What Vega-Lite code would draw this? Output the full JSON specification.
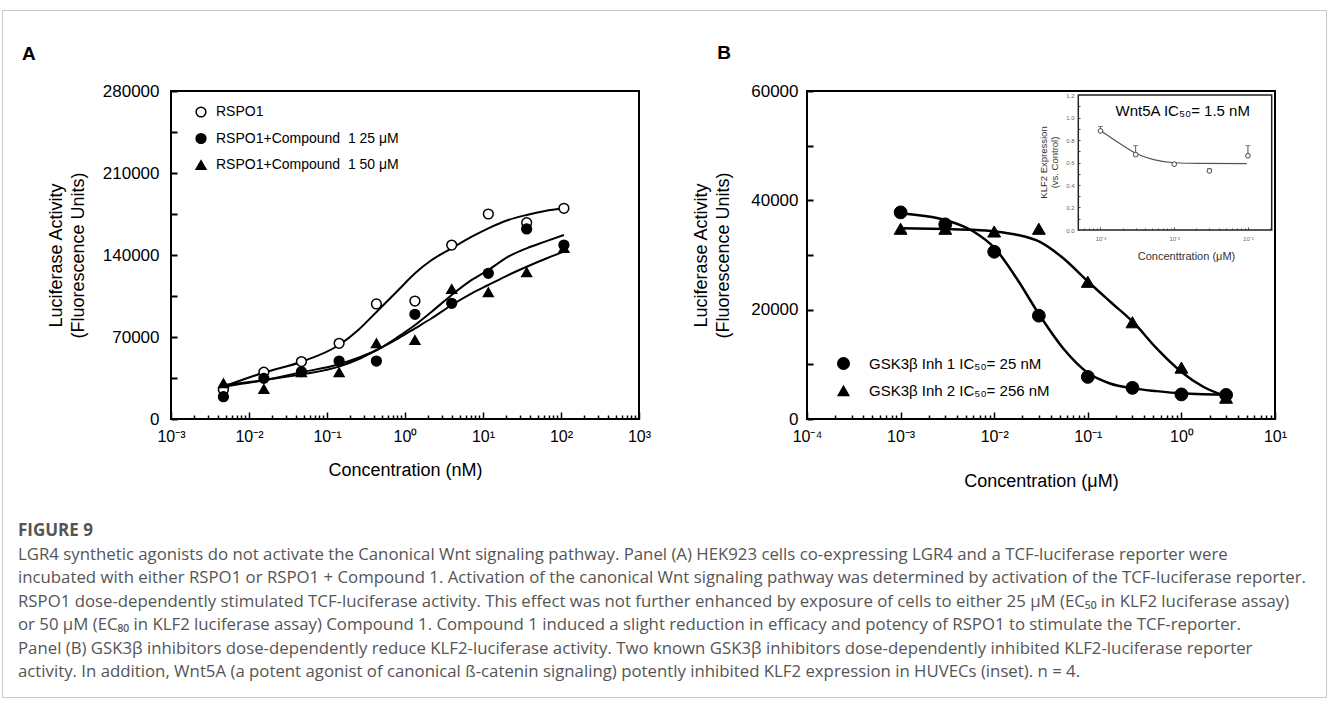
{
  "$schema": "https://vega.github.io/schema/vega-lite/v6.json",
  "width": 1324,
  "height": 687,
  "autosize": {"type": "none"},
  "padding": {"left": 2, "top": 10, "right": 2, "bottom": 5},
  "background": "white",
  "config": {
    "view": {"stroke": "#c8c8c8", "strokeWidth": 1},
    "font": "Liberation Sans",
    "axis": {"labelFont": "Liberation Sans", "titleFont": "Liberation Sans", "labelColor": "black", "titleColor": "black", "tickColor": "black", "tickOpacity": 1, "titleFontWeight": "normal", "grid": false, "domain": false, "labelOverlap": false, "labelFlush": false, "zindex": 1}
  },
  "title": {
    "text": "FIGURE 9",
    "subtitle": [
      "LGR4 synthetic agonists do not activate the Canonical Wnt signaling pathway. Panel (A) HEK923 cells co-expressing LGR4 and a TCF-luciferase reporter were",
      "incubated with either RSPO1 or RSPO1 + Compound 1. Activation of the canonical Wnt signaling pathway was determined by activation of the TCF-luciferase reporter.",
      "RSPO1 dose-dependently stimulated TCF-luciferase activity. This effect was not further enhanced by exposure of cells to either 25 μM (EC₅₀ in KLF2 luciferase assay)",
      "or 50 μM (EC₈₀ in KLF2 luciferase assay) Compound 1. Compound 1 induced a slight reduction in efficacy and potency of RSPO1 to stimulate the TCF-reporter.",
      "Panel (B) GSK3β inhibitors dose-dependently reduce KLF2-luciferase activity. Two known GSK3β inhibitors dose-dependently inhibited KLF2-luciferase reporter",
      "activity. In addition, Wnt5A (a potent agonist of canonical ß-catenin signaling) potently inhibited KLF2 expression in HUVECs (inset). n = 4."
    ],
    "orient": "bottom",
    "anchor": "start",
    "frame": "group",
    "align": "left",
    "offset": -174,
    "dx": 16,
    "font": "Open Sans",
    "fontSize": 17,
    "fontWeight": "bold",
    "color": "#555555",
    "subtitleFont": "Open Sans",
    "subtitleFontSize": 16.8,
    "subtitleColor": "#555555",
    "subtitleLineHeight": 23.4,
    "subtitlePadding": 7
  },
  "datasets": {
    "aPts": [
      {"series": "RSPO1", "conc": 0.0047, "value": 25000},
      {"series": "RSPO1", "conc": 0.0155, "value": 40000},
      {"series": "RSPO1", "conc": 0.047, "value": 49000},
      {"series": "RSPO1", "conc": 0.143, "value": 64600},
      {"series": "RSPO1", "conc": 0.43, "value": 98200},
      {"series": "RSPO1", "conc": 1.34, "value": 100700},
      {"series": "RSPO1", "conc": 3.97, "value": 148500},
      {"series": "RSPO1", "conc": 11.7, "value": 175000},
      {"series": "RSPO1", "conc": 36.3, "value": 167600},
      {"series": "RSPO1", "conc": 109, "value": 179900},
      {"series": "RSPO1+Compound\u00a0 1 50 μM", "conc": 0.0047, "value": 30500},
      {"series": "RSPO1+Compound\u00a0 1 50 μM", "conc": 0.0155, "value": 25600},
      {"series": "RSPO1+Compound\u00a0 1 50 μM", "conc": 0.047, "value": 39900},
      {"series": "RSPO1+Compound\u00a0 1 50 μM", "conc": 0.143, "value": 39900},
      {"series": "RSPO1+Compound\u00a0 1 50 μM", "conc": 0.43, "value": 64600},
      {"series": "RSPO1+Compound\u00a0 1 50 μM", "conc": 1.34, "value": 67400},
      {"series": "RSPO1+Compound\u00a0 1 50 μM", "conc": 3.97, "value": 111000},
      {"series": "RSPO1+Compound\u00a0 1 50 μM", "conc": 11.7, "value": 108200},
      {"series": "RSPO1+Compound\u00a0 1 50 μM", "conc": 36.3, "value": 125200},
      {"series": "RSPO1+Compound\u00a0 1 50 μM", "conc": 109, "value": 146000},
      {"series": "RSPO1+Compound\u00a0 1 25 μM", "conc": 0.0047, "value": 19000},
      {"series": "RSPO1+Compound\u00a0 1 25 μM", "conc": 0.0155, "value": 34700},
      {"series": "RSPO1+Compound\u00a0 1 25 μM", "conc": 0.047, "value": 40400},
      {"series": "RSPO1+Compound\u00a0 1 25 μM", "conc": 0.143, "value": 49500},
      {"series": "RSPO1+Compound\u00a0 1 25 μM", "conc": 0.43, "value": 49500},
      {"series": "RSPO1+Compound\u00a0 1 25 μM", "conc": 1.34, "value": 89400},
      {"series": "RSPO1+Compound\u00a0 1 25 μM", "conc": 3.97, "value": 98800},
      {"series": "RSPO1+Compound\u00a0 1 25 μM", "conc": 11.7, "value": 124400},
      {"series": "RSPO1+Compound\u00a0 1 25 μM", "conc": 36.3, "value": 162200},
      {"series": "RSPO1+Compound\u00a0 1 25 μM", "conc": 109, "value": 148500}
    ],
    "aFit": [
      {"series": "RSPO1", "conc": 0.00469, "value": 27600},
      {"series": "RSPO1", "conc": 0.016, "value": 39900},
      {"series": "RSPO1", "conc": 0.0473, "value": 48900},
      {"series": "RSPO1", "conc": 0.1425, "value": 63200},
      {"series": "RSPO1", "conc": 0.252, "value": 76000},
      {"series": "RSPO1", "conc": 0.434, "value": 91600},
      {"series": "RSPO1", "conc": 0.822, "value": 110100},
      {"series": "RSPO1", "conc": 1.344, "value": 124400},
      {"series": "RSPO1", "conc": 2.198, "value": 135700},
      {"series": "RSPO1", "conc": 3.97, "value": 145700},
      {"series": "RSPO1", "conc": 7.17, "value": 155600},
      {"series": "RSPO1", "conc": 11.7, "value": 162800},
      {"series": "RSPO1", "conc": 21.1, "value": 169900},
      {"series": "RSPO1", "conc": 36.3, "value": 174200},
      {"series": "RSPO1", "conc": 62.4, "value": 177600},
      {"series": "RSPO1", "conc": 109, "value": 179900},
      {"series": "C25", "conc": 0.00469, "value": 27600},
      {"series": "C25", "conc": 0.016, "value": 33300},
      {"series": "C25", "conc": 0.0473, "value": 39900},
      {"series": "C25", "conc": 0.1425, "value": 46700},
      {"series": "C25", "conc": 0.252, "value": 52300},
      {"series": "C25", "conc": 0.434, "value": 58900},
      {"series": "C25", "conc": 0.822, "value": 70300},
      {"series": "C25", "conc": 1.344, "value": 80200},
      {"series": "C25", "conc": 2.198, "value": 91600},
      {"series": "C25", "conc": 3.97, "value": 105900},
      {"series": "C25", "conc": 7.17, "value": 118700},
      {"series": "C25", "conc": 11.7, "value": 127200},
      {"series": "C25", "conc": 21.1, "value": 138600},
      {"series": "C25", "conc": 36.3, "value": 145700},
      {"series": "C25", "conc": 62.4, "value": 151400},
      {"series": "C25", "conc": 109, "value": 157100},
      {"series": "C50", "conc": 0.00469, "value": 29000},
      {"series": "C50", "conc": 0.016, "value": 33300},
      {"series": "C50", "conc": 0.0473, "value": 38100},
      {"series": "C50", "conc": 0.1425, "value": 44700},
      {"series": "C50", "conc": 0.252, "value": 51000},
      {"series": "C50", "conc": 0.434, "value": 58900},
      {"series": "C50", "conc": 0.822, "value": 68900},
      {"series": "C50", "conc": 1.344, "value": 77400},
      {"series": "C50", "conc": 2.198, "value": 86000},
      {"series": "C50", "conc": 3.97, "value": 97300},
      {"series": "C50", "conc": 7.17, "value": 107300},
      {"series": "C50", "conc": 11.7, "value": 114400},
      {"series": "C50", "conc": 21.1, "value": 122900},
      {"series": "C50", "conc": 36.3, "value": 130000},
      {"series": "C50", "conc": 62.4, "value": 136600},
      {"series": "C50", "conc": 109, "value": 142900}
    ],
    "bPts": [
      {"series": "GSK3β Inh 1 IC₅₀= 25 nM", "conc": 0.001, "value": 37800},
      {"series": "GSK3β Inh 1 IC₅₀= 25 nM", "conc": 0.003, "value": 35600},
      {"series": "GSK3β Inh 1 IC₅₀= 25 nM", "conc": 0.01, "value": 30600},
      {"series": "GSK3β Inh 1 IC₅₀= 25 nM", "conc": 0.03, "value": 18900},
      {"series": "GSK3β Inh 1 IC₅₀= 25 nM", "conc": 0.1, "value": 7700},
      {"series": "GSK3β Inh 1 IC₅₀= 25 nM", "conc": 0.3, "value": 5700},
      {"series": "GSK3β Inh 1 IC₅₀= 25 nM", "conc": 1, "value": 4500},
      {"series": "GSK3β Inh 1 IC₅₀= 25 nM", "conc": 3, "value": 4400},
      {"series": "GSK3β Inh 2 IC₅₀= 256 nM", "conc": 0.001, "value": 34800},
      {"series": "GSK3β Inh 2 IC₅₀= 256 nM", "conc": 0.003, "value": 34800},
      {"series": "GSK3β Inh 2 IC₅₀= 256 nM", "conc": 0.01, "value": 34300},
      {"series": "GSK3β Inh 2 IC₅₀= 256 nM", "conc": 0.03, "value": 34800},
      {"series": "GSK3β Inh 2 IC₅₀= 256 nM", "conc": 0.1, "value": 25100},
      {"series": "GSK3β Inh 2 IC₅₀= 256 nM", "conc": 0.3, "value": 17700},
      {"series": "GSK3β Inh 2 IC₅₀= 256 nM", "conc": 1, "value": 9400},
      {"series": "GSK3β Inh 2 IC₅₀= 256 nM", "conc": 3, "value": 3900}
    ],
    "bFit": [
      {"series": "Inh1", "conc": 0.001, "value": 37600},
      {"series": "Inh1", "conc": 0.003, "value": 36400},
      {"series": "Inh1", "conc": 0.006, "value": 34300},
      {"series": "Inh1", "conc": 0.0102, "value": 31200},
      {"series": "Inh1", "conc": 0.0174, "value": 25700},
      {"series": "Inh1", "conc": 0.0308, "value": 18900},
      {"series": "Inh1", "conc": 0.0547, "value": 12900},
      {"series": "Inh1", "conc": 0.101, "value": 8400},
      {"series": "Inh1", "conc": 0.1725, "value": 6500},
      {"series": "Inh1", "conc": 0.306, "value": 5600},
      {"series": "Inh1", "conc": 0.544, "value": 5100},
      {"series": "Inh1", "conc": 0.992, "value": 4700},
      {"series": "Inh1", "conc": 1.71, "value": 4550},
      {"series": "Inh1", "conc": 3.05, "value": 4500},
      {"series": "Inh2", "conc": 0.001, "value": 34900},
      {"series": "Inh2", "conc": 0.003, "value": 34750},
      {"series": "Inh2", "conc": 0.006, "value": 34600},
      {"series": "Inh2", "conc": 0.0102, "value": 34300},
      {"series": "Inh2", "conc": 0.0174, "value": 33700},
      {"series": "Inh2", "conc": 0.0308, "value": 32400},
      {"series": "Inh2", "conc": 0.0547, "value": 29400},
      {"series": "Inh2", "conc": 0.101, "value": 25100},
      {"series": "Inh2", "conc": 0.1725, "value": 21500},
      {"series": "Inh2", "conc": 0.306, "value": 17700},
      {"series": "Inh2", "conc": 0.544, "value": 12900},
      {"series": "Inh2", "conc": 0.992, "value": 8650},
      {"series": "Inh2", "conc": 1.71, "value": 5900},
      {"series": "Inh2", "conc": 3.05, "value": 4100}
    ],
    "insetPts": [
      {"conc": 0.001, "value": 0.88, "upper": 0.92},
      {"conc": 0.003, "value": 0.67, "upper": 0.75},
      {"conc": 0.01, "value": 0.585, "upper": null},
      {"conc": 0.03, "value": 0.525, "upper": 0.545},
      {"conc": 0.1, "value": 0.66, "upper": 0.75}
    ],
    "insetFit": [
      {"conc": 0.001, "value": 0.885},
      {"conc": 0.00168, "value": 0.785},
      {"conc": 0.00304, "value": 0.68},
      {"conc": 0.00526, "value": 0.625},
      {"conc": 0.0101, "value": 0.598},
      {"conc": 0.0224, "value": 0.592},
      {"conc": 0.096, "value": 0.59}
    ]
  },
  "resolve": {
    "scale": {"x": "independent", "y": "independent", "shape": "independent", "fill": "independent", "stroke": "independent"},
    "axis": {"x": "independent", "y": "independent"},
    "legend": {"shape": "independent", "fill": "independent", "stroke": "independent"}
  },
  "layer": [
    {
      "layer": [
        {
          "data": {"name": "aFit"},
          "mark": {"type": "line", "color": "black", "strokeWidth": 2, "interpolate": "monotone"},
          "encoding": {
            "x": {
              "field": "conc", "type": "quantitative",
              "scale": {"type": "log", "domain": [0.001, 1000], "range": [169, 637], "nice": false},
              "axis": {
                "orient": "bottom", "offset": -278,
                "values": [0.001,0.002,0.003,0.004,0.005,0.006,0.007,0.008,0.009,0.01,0.02,0.03,0.04,0.05,0.06,0.07,0.08,0.09,0.1,0.2,0.3,0.4,0.5,0.6,0.7,0.8,0.9,1,2,3,4,5,6,7,8,9,10,20,30,40,50,60,70,80,90,100,200,300,400,500,600,700,800,900,1000],
                "labelExpr": "abs(log(datum.value)/LN10 - round(log(datum.value)/LN10)) < 0.001 ? '10' + (round(log(datum.value)/LN10) < 0 ? '⁻' : '') + ['⁰','¹','²','³','⁴'][abs(round(log(datum.value)/LN10))] : ''",
                "tickSize": {"condition": {"test": "abs(log(datum.value)/LN10 - round(log(datum.value)/LN10)) < 0.001", "value": -7}, "value": -4},
                "tickWidth": 1.5,
                "labelFontSize": 16, "labelBaseline": "top", "labelPadding": 16,
                "title": "Concentration (nM)", "titleFontSize": 18, "titleY": 51, "titleBaseline": "middle"
              }
            },
            "y": {
              "field": "value", "type": "quantitative",
              "scale": {"domain": [0, 280000], "range": [409, 81], "nice": false},
              "axis": {
                "orient": "left", "offset": -169,
                "values": [0,35000,70000,105000,140000,175000,210000,245000,280000],
                "labelExpr": "datum.value % 70000 == 0 ? '' + datum.value : ''",
                "tickSize": -6, "tickWidth": 2,
                "labelFontSize": 17, "labelPadding": 18, "labelBaseline": "middle",
                "title": ["Luciferase Activity", "(Fluorescence Units)"],
                "titleFontSize": 18, "titleLineHeight": 22, "titleX": -115, "titleY": 245, "titleBaseline": "middle", "titleAngle": -90
              }
            },
            "detail": {"field": "series"}
          }
        },
        {
          "data": {"values": [{"label": "A"}]},
          "mark": {"type": "rect", "fill": null, "filled": false, "stroke": "black", "strokeWidth": 2},
          "encoding": {
            "x": {"datum": 0.001, "type": "quantitative"},
            "x2": {"datum": 1000},
            "y": {"datum": 0, "type": "quantitative"},
            "y2": {"datum": 280000}
          }
        },
        {
          "data": {"name": "aPts"},
          "mark": {"type": "point", "filled": true, "strokeWidth": 1.5, "size": 95, "opacity": 1},
          "encoding": {
            "x": {"field": "conc", "type": "quantitative"},
            "y": {"field": "value", "type": "quantitative"},
            "shape": {
              "field": "series", "type": "nominal",
              "scale": {"domain": ["RSPO1", "RSPO1+Compound\u00a0 1 25 μM", "RSPO1+Compound\u00a0 1 50 μM"], "range": ["circle", "circle", "triangle-up"]},
              "legend": {"orient": "none", "legendX": 192, "legendY": 95, "title": null, "symbolSize": 95, "symbolStrokeWidth": 1.5, "labelFont": "Liberation Sans", "labelFontSize": 14, "labelColor": "black", "labelLimit": 0, "labelOffset": 8, "rowPadding": 10.5, "padding": 0}
            },
            "fill": {
              "field": "series", "type": "nominal",
              "scale": {"domain": ["RSPO1", "RSPO1+Compound\u00a0 1 25 μM", "RSPO1+Compound\u00a0 1 50 μM"], "range": ["white", "black", "black"]},
              "legend": {"orient": "none", "legendX": 192, "legendY": 95, "title": null, "symbolSize": 95, "symbolStrokeWidth": 1.5, "labelFont": "Liberation Sans", "labelFontSize": 14, "labelColor": "black", "labelLimit": 0, "labelOffset": 8, "rowPadding": 10.5, "padding": 0}
            },
            "stroke": {
              "field": "series", "type": "nominal",
              "scale": {"domain": ["RSPO1", "RSPO1+Compound\u00a0 1 25 μM", "RSPO1+Compound\u00a0 1 50 μM"], "range": ["black", "black", "black"]},
              "legend": {"orient": "none", "legendX": 192, "legendY": 95, "title": null, "symbolSize": 95, "symbolStrokeWidth": 1.5, "labelFont": "Liberation Sans", "labelFontSize": 14, "labelColor": "black", "labelLimit": 0, "labelOffset": 8, "rowPadding": 10.5, "padding": 0}
            }
          }
        },
        {
          "data": {"values": [{"label": "A"}]},
          "mark": {"type": "text", "font": "Liberation Sans", "fontSize": 19, "fontWeight": "bold", "align": "center", "baseline": "middle", "color": "black"},
          "encoding": {
            "x": {"datum": 0.0000151, "type": "quantitative"},
            "y": {"datum": 312000, "type": "quantitative"},
            "text": {"field": "label"}
          }
        }
      ]
    },
    {
      "layer": [
        {
          "data": {"name": "bFit"},
          "mark": {"type": "line", "color": "black", "strokeWidth": 2.5, "interpolate": "monotone"},
          "encoding": {
            "x": {
              "field": "conc", "type": "quantitative",
              "scale": {"type": "log", "domain": [0.0001, 10], "range": [805, 1273], "nice": false},
              "axis": {
                "orient": "bottom", "offset": -278,
                "values": [0.0001,0.0002,0.0003,0.0004,0.0005,0.0006,0.0007,0.0008,0.0009,0.001,0.002,0.003,0.004,0.005,0.006,0.007,0.008,0.009,0.01,0.02,0.03,0.04,0.05,0.06,0.07,0.08,0.09,0.1,0.2,0.3,0.4,0.5,0.6,0.7,0.8,0.9,1,2,3,4,5,6,7,8,9,10],
                "labelExpr": "abs(log(datum.value)/LN10 - round(log(datum.value)/LN10)) < 0.001 ? '10' + (round(log(datum.value)/LN10) < 0 ? '⁻' : '') + ['⁰','¹','²','³','⁴'][abs(round(log(datum.value)/LN10))] : ''",
                "tickSize": {"condition": {"test": "abs(log(datum.value)/LN10 - round(log(datum.value)/LN10)) < 0.001", "value": -7}, "value": -4},
                "tickWidth": 1.5,
                "labelFontSize": 16, "labelBaseline": "top", "labelPadding": 16,
                "title": "Concentration (μM)", "titleFontSize": 18, "titleY": 62, "titleBaseline": "middle"
              }
            },
            "y": {
              "field": "value", "type": "quantitative",
              "scale": {"domain": [0, 60000], "range": [409, 81], "nice": false},
              "axis": {
                "orient": "left", "offset": -805,
                "values": [0,10000,20000,30000,40000,50000,60000],
                "labelExpr": "datum.value % 20000 == 0 ? '' + datum.value : ''",
                "tickSize": -6, "tickWidth": 2,
                "labelFontSize": 17, "labelPadding": 15, "labelBaseline": "middle",
                "title": ["Luciferase Activity", "(Fluorescence Units)"],
                "titleFontSize": 18, "titleLineHeight": 22, "titleX": -106, "titleY": 245, "titleBaseline": "middle", "titleAngle": -90
              }
            },
            "detail": {"field": "series"}
          }
        },
        {
          "data": {"values": [{"label": "B"}]},
          "mark": {"type": "rect", "fill": null, "filled": false, "stroke": "black", "strokeWidth": 2},
          "encoding": {
            "x": {"datum": 0.0001, "type": "quantitative"},
            "x2": {"datum": 10},
            "y": {"datum": 0, "type": "quantitative"},
            "y2": {"datum": 60000}
          }
        },
        {
          "data": {"name": "bPts"},
          "mark": {"type": "point", "filled": true, "color": "black", "stroke": "black", "strokeWidth": 1, "size": 165, "opacity": 1},
          "encoding": {
            "x": {"field": "conc", "type": "quantitative"},
            "y": {"field": "value", "type": "quantitative"},
            "shape": {
              "field": "series", "type": "nominal",
              "scale": {"domain": ["GSK3β Inh 1 IC₅₀= 25 nM", "GSK3β Inh 2 IC₅₀= 256 nM"], "range": ["circle", "triangle-up"]},
              "legend": {"orient": "none", "legendX": 834, "legendY": 346, "title": null, "symbolSize": 170, "symbolFillColor": "black", "symbolStrokeColor": "black", "symbolStrokeWidth": 1, "labelFont": "Liberation Sans", "labelFontSize": 15, "labelColor": "black", "labelLimit": 0, "labelOffset": 18, "rowPadding": 9, "padding": 0}
            }
          }
        },
        {
          "data": {"values": [{"label": "B"}]},
          "mark": {"type": "text", "font": "Liberation Sans", "fontSize": 19, "fontWeight": "bold", "align": "center", "baseline": "middle", "color": "black"},
          "encoding": {
            "x": {"datum": 0.000013, "type": "quantitative"},
            "y": {"datum": 66950, "type": "quantitative"},
            "text": {"field": "label"}
          }
        }
      ]
    },
    {
      "layer": [
        {
          "data": {"name": "insetFit"},
          "mark": {"type": "line", "color": "#555555", "strokeWidth": 1.2, "interpolate": "monotone"},
          "encoding": {
            "x": {
              "field": "conc", "type": "quantitative",
              "scale": {"type": "log", "domain": [0.0005, 0.21], "range": [1076.3, 1269.7], "nice": false},
              "axis": {
                "orient": "bottom", "offset": -467, "zindex": 2,
                "values": [0.0006,0.0007,0.0008,0.0009,0.001,0.002,0.003,0.004,0.005,0.006,0.007,0.008,0.009,0.01,0.02,0.03,0.04,0.05,0.06,0.07,0.08,0.09,0.1,0.2],
                "labelExpr": "abs(log(datum.value)/LN10 - round(log(datum.value)/LN10)) < 0.001 ? '10' + (round(log(datum.value)/LN10) < 0 ? '⁻' : '') + ['⁰','¹','²','³','⁴'][abs(round(log(datum.value)/LN10))] : ''",
                "tickSize": {"condition": {"test": "abs(log(datum.value)/LN10 - round(log(datum.value)/LN10)) < 0.001", "value": -3}, "value": -2},
                "tickWidth": 1, "tickColor": "#444444",
                "labelFontSize": 6, "labelColor": "#666666", "labelBaseline": "top", "labelPadding": 8,
                "title": "Concenttration (μM)", "titleFontSize": 11, "titleColor": "#333333", "titleY": 26, "titleX": 1184, "titleBaseline": "middle"
              }
            },
            "y": {
              "field": "value", "type": "quantitative",
              "scale": {"domain": [0, 1.2], "range": [220, 85], "nice": false},
              "axis": {
                "orient": "left", "offset": -1076, "zindex": 2,
                "values": [0,0.1,0.2,0.3,0.4,0.5,0.6,0.7,0.8,0.9,1,1.1,1.2],
                "labelExpr": "abs(datum.value*5 - round(datum.value*5)) < 0.001 ? format(datum.value, '.1f') : ''",
                "tickSize": -2, "tickWidth": 1, "tickColor": "#444444",
                "labelFontSize": 6, "labelColor": "#666666", "labelPadding": 6, "labelBaseline": "middle",
                "title": ["KLF2 Expression", "(vs. Control)"],
                "titleFontSize": 9.5, "titleColor": "#333333", "titleLineHeight": 11, "titleX": -35, "titleY": 152, "titleBaseline": "middle", "titleAngle": -90
              }
            }
          }
        },
        {
          "data": {"values": [{"label": "inset"}]},
          "mark": {"type": "rect", "fill": null, "filled": false, "stroke": "#222222", "strokeWidth": 1.5},
          "encoding": {
            "x": {"datum": 0.0005, "type": "quantitative"},
            "x2": {"datum": 0.21},
            "y": {"datum": 0, "type": "quantitative"},
            "y2": {"datum": 1.2}
          }
        },
        {
          "data": {"name": "insetPts"},
          "transform": [{"filter": "datum.upper != null"}],
          "mark": {"type": "rule", "color": "#555555", "strokeWidth": 1},
          "encoding": {
            "x": {"field": "conc", "type": "quantitative"},
            "y": {"field": "value", "type": "quantitative"},
            "y2": {"field": "upper"}
          }
        },
        {
          "data": {"name": "insetPts"},
          "transform": [{"filter": "datum.upper != null"}],
          "mark": {"type": "point", "shape": "stroke", "size": 25, "color": "#555555", "strokeWidth": 1},
          "encoding": {
            "x": {"field": "conc", "type": "quantitative"},
            "y": {"field": "upper", "type": "quantitative"}
          }
        },
        {
          "data": {"name": "insetPts"},
          "mark": {"type": "point", "filled": true, "fill": "white", "stroke": "#444444", "strokeWidth": 1, "size": 22, "opacity": 1},
          "encoding": {
            "x": {"field": "conc", "type": "quantitative"},
            "y": {"field": "value", "type": "quantitative"}
          }
        },
        {
          "data": {"values": [{"label": "Wnt5A IC₅₀= 1.5 nM"}]},
          "mark": {"type": "text", "font": "Liberation Sans", "fontSize": 15, "align": "left", "baseline": "alphabetic", "color": "black"},
          "encoding": {
            "x": {"datum": 0.0016, "type": "quantitative"},
            "y": {"datum": 1.013, "type": "quantitative"},
            "text": {"field": "label"}
          }
        }
      ]
    }
  ]
}
